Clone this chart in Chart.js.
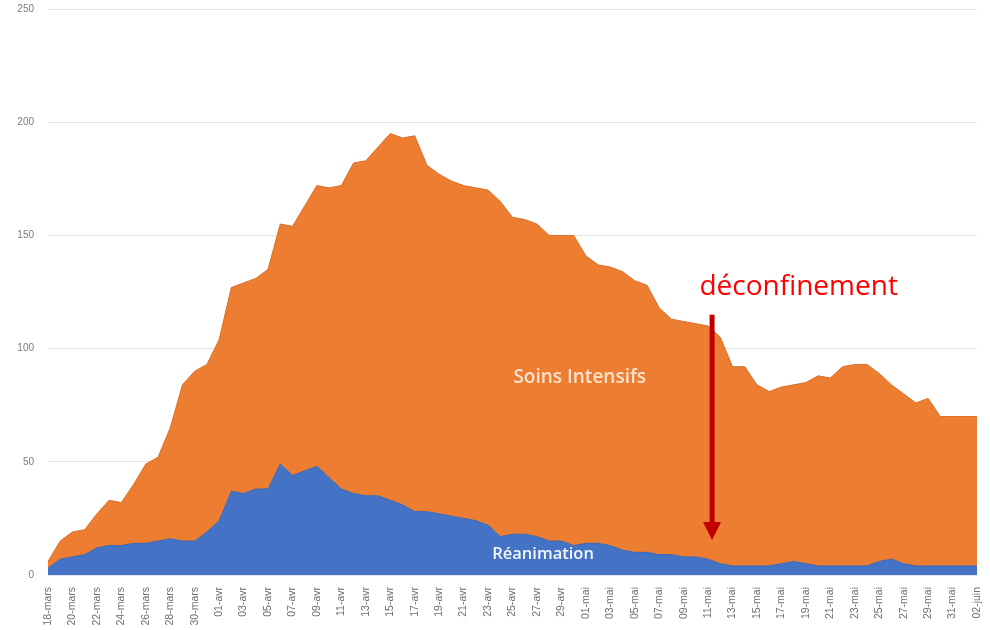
<!DOCTYPE html>
<html>
<head>
<meta charset="utf-8">
<script src="https://cdn.jsdelivr.net/npm/chart.js@4"></script>
<style>
  html, body { margin: 0; padding: 0; background: #ffffff; }
  #wrap { width: 990px; height: 630px; position: relative; }
</style>
</head>
<body>
<div id="wrap"><canvas id="c"></canvas></div>
<script>
const categories = [
  "18-mars","19-mars","20-mars","21-mars","22-mars","23-mars","24-mars","25-mars","26-mars","27-mars",
  "28-mars","29-mars","30-mars","31-mars",
  "01-avr","02-avr","03-avr","04-avr","05-avr","06-avr","07-avr","08-avr","09-avr","10-avr",
  "11-avr","12-avr","13-avr","14-avr","15-avr","16-avr","17-avr","18-avr","19-avr","20-avr",
  "21-avr","22-avr","23-avr","24-avr","25-avr","26-avr","27-avr","28-avr","29-avr","30-avr",
  "01-mai","02-mai","03-mai","04-mai","05-mai","06-mai","07-mai","08-mai","09-mai","10-mai",
  "11-mai","12-mai","13-mai","14-mai","15-mai","16-mai","17-mai","18-mai","19-mai","20-mai",
  "21-mai","22-mai","23-mai","24-mai","25-mai","26-mai","27-mai","28-mai","29-mai","30-mai",
  "31-mai","01-juin","02-juin"
];

const reanimation = [
  3,7,8,9,12,13,13,14,14,15,16,15,15,19,
  24,37,36,38,38,49,44,46,48,43,38,36,35,35,33,31,28,28,27,26,25,24,22,17,18,18,17,15,15,13,
  14,14,13,11,10,10,9,9,8,8,7,5,4,4,4,4,5,6,5,4,4,4,4,4,6,7,5,4,4,4,4,
  4,4
];

const soinsIntensifs = [
  3,8,11,11,15,20,19,26,35,37,49,69,75,74,
  80,90,93,93,97,106,110,117,124,128,134,146,148,154,162,162,166,153,150,148,147,147,148,148,140,139,138,135,135,137,
  127,123,123,123,120,118,109,104,104,103,103,100,88,88,80,77,78,78,80,84,83,88,89,89,83,77,75,72,74,66,66,
  66,66
];

const yTicks = [0, 50, 100, 150, 200, 250];

const annotations = {
  id: 'annotations',
  afterDatasetsDraw(chart) {
    const ctx = chart.ctx;
    const xs = chart.scales.x, ys = chart.scales.y;
    ctx.save();
    ctx.textAlign = 'center';
    ctx.textBaseline = 'middle';
    // Soins Intensifs label
    ctx.fillStyle = '#fde3cf';
    ctx.font = '600 19px "Open Sans", sans-serif';
    ctx.fillText('Soins Intensifs', (xs.getPixelForValue(43) + xs.getPixelForValue(44)) / 2, ys.getPixelForValue(87));
    // Réanimation label
    ctx.fillStyle = '#f4f6fb';
    ctx.font = '600 16.5px "Open Sans", sans-serif';
    ctx.fillText('Réanimation', (xs.getPixelForValue(40) + xs.getPixelForValue(41)) / 2, ys.getPixelForValue(9));
    // déconfinement text
    ctx.fillStyle = '#ff0000';
    ctx.font = '28px "Open Sans", sans-serif';
    ctx.fillText('déconfinement', xs.getPixelForValue(61) + 5, ys.getPixelForValue(127));
    // arrow
    const ax = xs.getPixelForValue(54) + 4;
    const yTop = ys.getPixelForValue(115);
    const yTip = ys.getPixelForValue(15.5);
    const headH = 18, headW = 9;
    ctx.strokeStyle = '#c00000';
    ctx.fillStyle = '#c00000';
    ctx.lineWidth = 5;
    ctx.beginPath();
    ctx.moveTo(ax, yTop);
    ctx.lineTo(ax, yTip - headH + 1);
    ctx.stroke();
    ctx.beginPath();
    ctx.moveTo(ax - headW, yTip - headH);
    ctx.lineTo(ax + headW, yTip - headH);
    ctx.lineTo(ax, yTip);
    ctx.closePath();
    ctx.fill();
    ctx.restore();
  }
};

function zeroPad(s) {
  s.paddingTop = 0; s.paddingBottom = 0; s.paddingLeft = 0; s.paddingRight = 0;
}

new Chart(document.getElementById('c'), {
  type: 'line',
  data: {
    labels: categories,
    datasets: [
      {
        label: 'Réanimation',
        data: reanimation,
        backgroundColor: '#4472c4',
        borderColor: '#3d67b3',
        borderWidth: 1,
        fill: 'origin',
        pointRadius: 0,
        tension: 0
      },
      {
        label: 'Soins Intensifs',
        data: soinsIntensifs,
        backgroundColor: '#ed7d31',
        borderColor: '#d9702b',
        borderWidth: 1,
        fill: '-1',
        pointRadius: 0,
        tension: 0
      }
    ]
  },
  options: {
    responsive: true,
    maintainAspectRatio: false,
    animation: false,
    layout: { padding: { top: 9, right: 13, left: 0, bottom: 0 } },
    plugins: {
      legend: { display: false },
      tooltip: { enabled: false }
    },
    scales: {
      x: {
        offset: false,
        grid: { display: false },
        border: { display: false },
        ticks: {
          autoSkip: false,
          maxRotation: 90,
          minRotation: 90,
          color: '#6e6e6e',
          font: { family: '"Liberation Sans", Arial, sans-serif', size: 10.5 },
          padding: 4,
          callback: function(v, i) { return i % 2 === 0 ? categories[i] : ''; }
        },
        afterFit: function(s) { s.height = 55; zeroPad(s); }
      },
      y: {
        stacked: true,
        min: 0,
        max: 250,
        afterBuildTicks: function(s) { s.ticks = yTicks.map(v => ({ value: v })); },
        grid: { color: '#e3e3e3', drawTicks: false, lineWidth: 1 },
        border: { display: false },
        ticks: {
          color: '#7a7a7a',
          font: { family: '"Liberation Sans", Arial, sans-serif', size: 10 },
          padding: 14
        },
        afterFit: function(s) { s.width = 48; zeroPad(s); }
      }
    }
  },
  plugins: [annotations]
});
</script>
</body>
</html>
